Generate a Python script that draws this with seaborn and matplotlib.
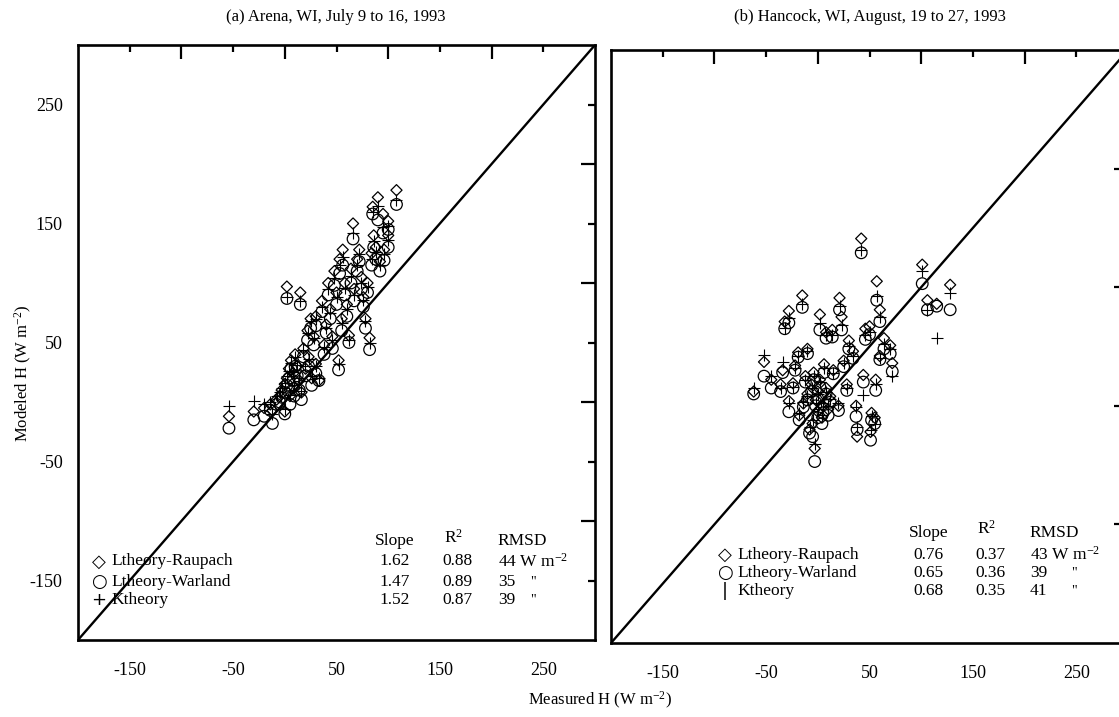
import matplotlib
matplotlib.use("Agg")
import matplotlib.pyplot as plt
import seaborn as sns

# ── veriler (okunan degerler, W m-2) ────────────────────────────────────────
# (a) Arena
arena_meas = [-54, -30, -20, -14, -12, -8, -5, -3, 0, 0, 2, 2, 4, 5, 6, 8, 9, 10,
              12, 14, 15, 16, 18, 20, 22, 23, 25, 26, 28, 30, 30, 33, 36, 38, 40,
              42, 44, 46, 48, 50, 52, 53, 55, 56, 58, 60, 62, 64, 66, 67, 70, 72,
              74, 76, 78, 80, 82, 84, 85, 86, 88, 90, 92, 95, 96, 100, 100, 108]
arena_raupach = [-12, -8, -5, -2, -7, 2, 5, 10, -8, 15, 20, 97, 28, 5, 35, 24, 12, 40,
                 30, 18, 92, 8, 45, 28, 60, 38, 70, 20, 55, 72, 32, 18, 85, 48, 65,
                 100, 78, 55, 110, 92, 35, 120, 70, 128, 100, 82, 56, 112, 150, 95, 120, 128,
                 105, 88, 70, 100, 54, 125, 164, 140, 130, 172, 118, 158, 128, 140, 152, 178]
arena_warland = [-22, -15, -12, -7, -18, -2, 0, 4, -10, 8, 14, 87, 20, -2, 28, 18, 5, 30,
                 22, 10, 82, 2, 38, 22, 52, 30, 62, 14, 48, 64, 24, 18, 76, 40, 58,
                 90, 70, 45, 98, 82, 27, 108, 60, 115, 90, 72, 50, 100, 137, 85, 110, 118,
                 95, 80, 62, 92, 44, 115, 158, 130, 120, 153, 110, 142, 119, 130, 145, 166]
arena_k = [-3, 1, -2, 0, -10, 5, 8, 12, -6, 16, 22, 88, 26, 6, 33, 25, 14, 38,
           31, 20, 85, 9, 44, 30, 58, 36, 68, 22, 54, 70, 30, 20, 80, 46, 62,
           95, 75, 52, 104, 88, 32, 115, 66, 122, 96, 78, 52, 106, 142, 90, 115, 124,
           100, 86, 68, 97, 50, 120, 160, 135, 126, 165, 115, 147, 124, 136, 148, 170]

# (b) Hancock
hancock_meas = [42, 101, 128, 106, 115, 57, 60, 21, -15, -28, -32, 2, 23, 8, 14, -52,
                -34, -19, -10, 46, 50, 64, 70, 60, 72, 44, 56, 34, 25, 15, 28, -28,
                -36, -24, 20, 37, 52, 55, 38, 51, -3, -8, -5, -18, -14, -10, -6, -2,
                0, 0, 2, 4, 5, 8, 10, 12, -4, 6, -12, -22, 30, -62, -45]
hancock_raupach = [141, 119, 102, 89, 86, 105, 81, 91, 93, 80, 71, 77, 75, 62, 64, 37,
                   30, 45, 48, 65, 67, 57, 51, 42, 36, 26, 22, 46, 38, 30, 18, 4,
                   18, 19, 0, 0, -6, -10, -26, -22, -36, -20, -15, -8, 2, 10, 18, 5,
                   -5, 12, 22, -10, 0, 15, -3, 8, 28, 35, 25, 34, 55, 12, 22]
hancock_warland = [129, 103, 81, 81, 84, 89, 71, 81, 83, 70, 65, 64, 64, 57, 58, 25,
                   28, 41, 44, 56, 60, 48, 44, 39, 29, 20, 13, 40, 33, 27, 13, -5,
                   12, 15, -4, -9, -12, -15, -20, -29, -47, -23, -26, -12, -1, 5, 12, 0,
                   -10, 6, 16, -15, -6, 10, -8, 3, 22, 28, 20, 30, 48, 10, 15]
hancock_k = [131, 114, 95, 81, 57, 93, 75, 84, 86, 74, 66, 70, 68, 60, 60, 43,
             37, 42, 46, 60, 62, 52, 48, 40, 25, 9, 18, 42, 36, 28, 15, 2,
             15, 16, 2, -1, -9, -15, -18, -20, -32, -18, -12, -6, 3, 8, 15, 2,
             -3, 10, 20, -8, 2, 12, 0, 6, 25, 32, 22, 32, 50, 15, 25]

SERIES = ["Ltheory-Raupach", "Ltheory-Warland", "Ktheory"]
arena_slope = [1.62, 1.47, 1.52]
arena_r2 = [0.88, 0.89, 0.87]
arena_rmsd = [44, 35, 39]
hancock_slope = [0.76, 0.65, 0.68]
hancock_r2 = [0.37, 0.36, 0.35]
hancock_rmsd = [43, 39, 41]

MAJOR = [-150, -50, 50, 150, 250]
MINOR = [-100, 0, 100, 200]
LIM = (-200, 300)

# ── stil ────────────────────────────────────────────────────────────────────
sns.set_theme(style="white")
plt.rcParams.update({
    "font.family": ["Liberation Serif", "DejaVu Serif"],
    "mathtext.fontset": "custom",
    "mathtext.rm": "Liberation Serif",
    "mathtext.it": "Liberation Serif:italic",
    "text.color": "black",
    "axes.edgecolor": "black",
})

W, H = 1119, 717
FS = 13


def panel(ax, meas, yr, yw, yk, slope, r2, rmsd, k_glyph, lay, ylabels=True):
    sns.scatterplot(x=meas, y=yw, marker="o", s=70, facecolor="none",
                    edgecolor="black", linewidth=0.9, ax=ax)
    sns.scatterplot(x=meas, y=yr, marker="D", s=32, facecolor="none",
                    edgecolor="black", linewidth=0.9, ax=ax)
    sns.scatterplot(x=meas, y=yk, marker="+", s=70, color="black",
                    linewidth=0.8, ax=ax)
    ax.axline((0, 0), slope=1, color="black", lw=1.7)

    ax.set_xlim(*LIM)
    ax.set_ylim(*LIM)
    ax.set_xticks(MAJOR)
    ax.set_yticks(MAJOR)
    ax.set_xticks(MINOR, minor=True)
    ax.set_yticks(MINOR, minor=True)
    ax.set_xticklabels([str(v) for v in MAJOR])
    ax.set_yticklabels([str(v) for v in MAJOR])
    ax.tick_params(which="both", direction="in", top=True, right=True,
                   width=1.6, colors="black", labelsize=FS)
    ax.tick_params(which="major", length=5)
    ax.tick_params(which="minor", length=10)
    ax.tick_params(axis="x", pad=16)
    ax.tick_params(axis="y", pad=11, labelleft=ylabels)
    for s in ax.spines.values():
        s.set_linewidth(1.9)
        s.set_color("black")
    ax.set_xlabel("")
    ax.set_ylabel("")

    # istatistik tablosu
    x_mk, x_lb, x_sl, x_r2, x_rm, x_q, y_hd, ys = lay
    ax.text(x_sl, y_hd, "Slope", ha="center", va="center", fontsize=FS - 0.5)
    ax.text(x_r2, y_hd + 3, r"R$^{2}$", ha="center", va="center", fontsize=FS - 0.5)
    ax.text(x_rm, y_hd, "RMSD", ha="left", va="center", fontsize=FS - 0.5)
    glyphs = ["\u25c7", "\u25cb", k_glyph]
    for i in range(3):
        ax.text(x_mk, ys[i], glyphs[i], ha="center", va="center", fontsize=FS,
                family=["DejaVu Sans"])
        ax.text(x_lb, ys[i], SERIES[i], ha="left", va="center", fontsize=FS - 0.5)
        ax.text(x_sl, ys[i], f"{slope[i]:.2f}", ha="center", va="center", fontsize=FS - 0.5)
        ax.text(x_r2 + 4, ys[i], f"{r2[i]:.2f}", ha="center", va="center", fontsize=FS - 0.5)
        if i == 0:
            ax.text(x_rm, ys[i], f"{rmsd[i]} W m$^{{-2}}$", ha="left", va="center",
                    fontsize=FS - 0.5)
        else:
            ax.text(x_rm, ys[i], f"{rmsd[i]}", ha="left", va="center", fontsize=FS - 0.5)
            ax.text(x_q, ys[i], '"', ha="center", va="center", fontsize=FS - 3)


fig = plt.figure(figsize=(W / 100, H / 100), dpi=100)
ax_a = fig.add_axes([78 / W, (H - 640) / H, 517 / W, 595 / H])
ax_b = fig.add_axes([611 / W, (H - 643) / H, 517 / W, 593 / H])

panel(ax_a, arena_meas, arena_raupach, arena_warland, arena_k,
      arena_slope, arena_r2, arena_rmsd, "+",
      (-180, -168, 106, 163, 206, 240, -117, [-134, -151, -166]))
panel(ax_b, hancock_meas, hancock_raupach, hancock_warland, hancock_k,
      hancock_slope, hancock_r2, hancock_rmsd, "|",
      (-90, -78, 107, 163, 205, 248, -107, [-126, -141, -156]), ylabels=False)

fig.text(336 / W, 1 - 17 / H, "(a) Arena, WI, July 9 to 16, 1993",
         ha="center", va="center", fontsize=12)
fig.text(870 / W, 1 - 17 / H, "(b) Hancock, WI, August, 19 to 27, 1993",
         ha="center", va="center", fontsize=12)
fig.text(23 / W, 344 / H, "Modeled H (W m$^{-2}$)", rotation=90,
         ha="center", va="center", fontsize=12)
fig.text(600 / W, 17 / H, "Measured H (W m$^{-2}$)",
         ha="center", va="center", fontsize=12)

fig.savefig("out.png", dpi=100, facecolor="white")
